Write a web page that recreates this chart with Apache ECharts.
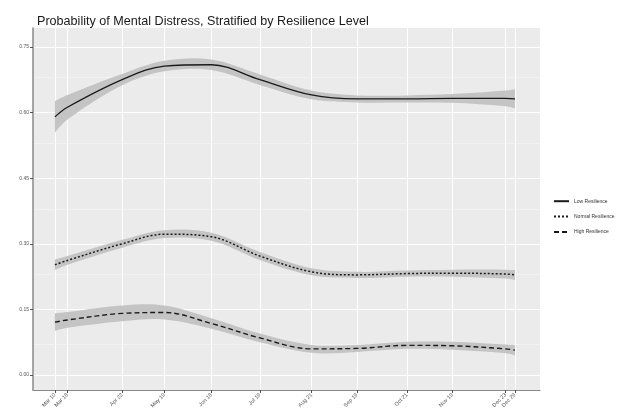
<!DOCTYPE html>
<html>
<head>
<meta charset="utf-8">
<script src="https://cdn.jsdelivr.net/npm/echarts@6/dist/echarts.min.js"></script>
<style>
  html, body { margin: 0; padding: 0; background: #ffffff; }
  #chart { width: 632px; height: 415px; }
</style>
</head>
<body>
<div id="chart"></div>
<script>
// Survey timeline (days since first wave) and its tick labels
const surveyDays = [0, 8, 43, 70, 100, 131, 164, 193, 225, 254, 288, 294];
const tickLabels = ['Mar 10', 'Mar 18', 'Apr 22', 'May 19', 'Jun 18', 'Jul 19',
                    'Aug 21', 'Sep 19', 'Oct 21', 'Nov 19', 'Dec 23', 'Dec 29'];

// Smoothed probability of mental distress by resilience group
const lowResilience    = [0.590, 0.612, 0.675, 0.706, 0.709, 0.675, 0.640, 0.631, 0.631, 0.632, 0.632, 0.631];
const normalResilience = [0.252, 0.262, 0.300, 0.322, 0.316, 0.272, 0.236, 0.229, 0.232, 0.233, 0.231, 0.229];
const highResilience   = [0.121, 0.126, 0.141, 0.143, 0.118, 0.085, 0.060, 0.061, 0.068, 0.067, 0.060, 0.057];

// Half-width of the 95% confidence band for each group
const lowSE    = [0.036, 0.028, 0.013, 0.012, 0.012, 0.012, 0.010, 0.008, 0.008, 0.010, 0.018, 0.022];
const normalSE = [0.012, 0.010, 0.009, 0.009, 0.009, 0.009, 0.008, 0.007, 0.007, 0.008, 0.010, 0.011];
const highSE   = [0.020, 0.018, 0.018, 0.016, 0.012, 0.010, 0.009, 0.008, 0.008, 0.009, 0.010, 0.012];

const yTicks = [0.00, 0.15, 0.30, 0.45, 0.60, 0.75];
const yMinorLines = [0.075, 0.225, 0.375, 0.525, 0.675];

const SMOOTH = 0.35;
const chart = echarts.init(document.getElementById('chart'), null, { renderer: 'canvas' });

const pairs = (vals) => surveyDays.map((d, i) => [d, vals[i]]);
const labelFor = (v) => { const i = surveyDays.indexOf(v); return i >= 0 ? tickLabels[i] : ''; };

// Close pairs of waves get their labels on two axes so neither is dropped
const labelsMain = surveyDays.filter((d, i) => i % 2 === 0 || i < 10 && i > 1);
const labelsAlt = surveyDays.filter(d => labelsMain.indexOf(d) < 0);

// Bezier segments through pixel points, same control-point rule as a smoothed line series
function smoothSegments(pts, smooth) {
  const n = pts.length;
  const cpIn = [], cpOut = [];
  for (let i = 0; i < n; i++) {
    const p = pts[i];
    if (i === 0 || i === n - 1) { cpIn[i] = p; cpOut[i] = p; continue; }
    const prev = pts[i - 1], next = pts[i + 1];
    const vx = next[0] - prev[0], vy = next[1] - prev[1];
    const lp = Math.hypot(p[0] - prev[0], p[1] - prev[1]);
    const ln = Math.hypot(next[0] - p[0], next[1] - p[1]);
    const r = ln / (ln + lp);
    cpOut[i] = [p[0] + vx * smooth * r, p[1] + vy * smooth * r];
    cpIn[i] = [p[0] - vx * smooth * (1 - r), p[1] - vy * smooth * (1 - r)];
  }
  let d = '';
  for (let i = 1; i < n; i++) {
    d += ' C' + cpOut[i - 1][0] + ',' + cpOut[i - 1][1] + ' ' + cpIn[i][0] + ',' + cpIn[i][1] + ' ' + pts[i][0] + ',' + pts[i][1];
  }
  return d;
}

function band(name, vals, se) {
  const upper = vals.map((v, i) => v + se[i]);
  const lower = vals.map((v, i) => v - se[i]);
  return {
    name: name, type: 'custom', silent: true, z: 1,
    data: pairs(vals),
    renderItem: (params, api) => {
      if (params.dataIndex !== 0) return null;
      const up = surveyDays.map((d, i) => api.coord([d, upper[i]]));
      const lo = surveyDays.map((d, i) => api.coord([d, lower[i]])).reverse();
      const pathData = 'M' + up[0][0] + ',' + up[0][1] + smoothSegments(up, SMOOTH) +
        ' L' + lo[0][0] + ',' + lo[0][1] + smoothSegments(lo, SMOOTH) + ' Z';
      return {
        type: 'path',
        shape: { pathData: pathData, layout: 'cover' },
        style: { fill: '#c4c4c4', stroke: null }
      };
    }
  };
}

function trend(name, vals, dash, width, extra) {
  return Object.assign({
    name: name, type: 'line', smooth: SMOOTH, symbol: 'none', z: 3,
    color: '#1a1a1a',
    lineStyle: { color: '#1a1a1a', width: width, type: dash },
    data: pairs(vals)
  }, extra || {});
}

const xLabelStyle = {
  rotate: 45, fontSize: 5.5, color: '#555555', fontFamily: 'Liberation Sans', margin: 4,
  hideOverlap: false, formatter: labelFor
};

const option = {
  backgroundColor: '#ffffff',
  animation: false,
  title: {
    text: 'Probability of Mental Distress, Stratified by Resilience Level',
    left: 32, top: 10,
    textStyle: { fontFamily: 'Liberation Sans', fontSize: 12.6, fontWeight: 'normal', color: '#1a1a1a' }
  },
  legend: {
    data: ['Low Resilience', 'Normal Resilience', 'High Resilience'],
    orient: 'vertical', left: 548, top: 193,
    itemWidth: 15, itemHeight: 8, itemGap: 9,
    itemStyle: { opacity: 0 },
    textStyle: { fontFamily: 'Liberation Sans', fontSize: 5, color: '#333333' }
  },
  grid: { left: 33, right: 92, top: 28, bottom: 25, show: true, backgroundColor: '#ebebeb', borderWidth: 0 },
  xAxis: [
    {
      type: 'value', min: -14, max: 310,
      axisLine: { show: true, onZero: false, lineStyle: { color: '#8a8a8a', width: 1.2 } },
      axisTick: { show: true, customValues: surveyDays, length: 3, lineStyle: { color: '#555555' } },
      axisLabel: Object.assign({ customValues: labelsMain }, xLabelStyle),
      splitLine: { show: true, lineStyle: { color: '#ffffff', width: 1 } }
    },
    {
      type: 'value', min: -14, max: 310, position: 'bottom',
      axisLine: { show: false }, axisTick: { show: false }, splitLine: { show: false },
      axisLabel: Object.assign({ customValues: labelsAlt }, xLabelStyle)
    }
  ],
  yAxis: {
    type: 'value', min: -0.034, max: 0.793,
    axisLine: { show: true, onZero: false, lineStyle: { color: '#8a8a8a', width: 1.5 } },
    axisTick: { show: true, customValues: yTicks, length: 3, lineStyle: { color: '#555555' } },
    axisLabel: {
      customValues: yTicks, fontSize: 5, color: '#555555', fontFamily: 'Liberation Sans', margin: 4,
      formatter: (v) => v.toFixed(2)
    },
    splitLine: { show: true, lineStyle: { color: '#ffffff', width: 1 } }
  },
  series: [
    band('low band', lowResilience, lowSE),
    band('normal band', normalResilience, normalSE),
    band('high band', highResilience, highSE),
    trend('Low Resilience', lowResilience, 'solid', 1.3, {
      markLine: {
        silent: true, symbol: 'none', label: { show: false }, z: 0,
        lineStyle: { color: '#f7f7f7', width: 0.6, type: 'solid' },
        data: yMinorLines.map(v => ({ yAxis: v }))
      }
    }),
    trend('Normal Resilience', normalResilience, [2, 2], 1.5),
    trend('High Resilience', highResilience, [5, 3], 1.4)
  ]
};

chart.setOption(option);
</script>
</body>
</html>
